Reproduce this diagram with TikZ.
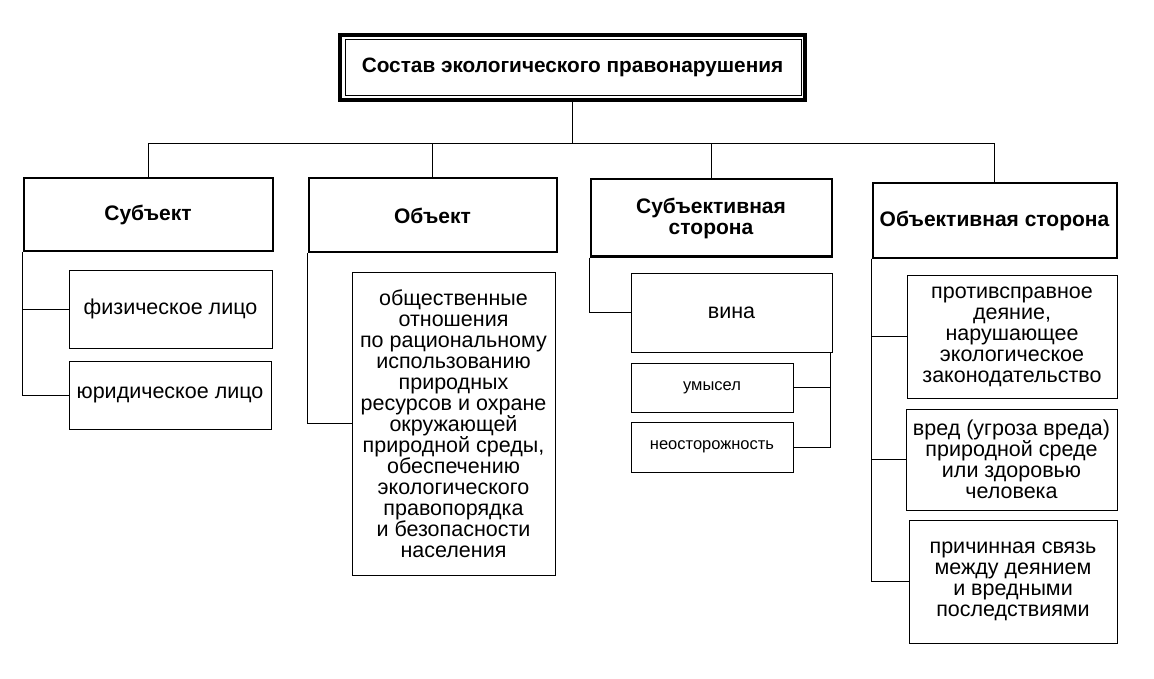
\documentclass[tikz,border=0pt]{standalone}
\usepackage{fontspec}
\setmainfont{Liberation Sans}
\usetikzlibrary{calc}

\begin{document}
\begin{tikzpicture}[x=1pt, y=-1pt,
	head/.style={draw, line width=2pt, font=\fontsize{21}{21}\selectfont\bfseries, align=center},
	item/.style={draw, line width=1pt, font=\fontsize{21.5}{21}\selectfont, align=center},
	small/.style={draw, line width=1pt, font=\fontsize{16.5}{18}\selectfont, align=center},
	link/.style={line width=1pt}]
	\useasboundingbox (0,0) rectangle (1154,679);

	\node[draw, line width=3.5pt, minimum width=465pt, minimum height=65pt, font=\fontsize{20.8}{21}\selectfont\bfseries] (root) at (572.5,67.5) {Состав экологического правонарушения};
	\draw[line width=1pt] ([shift={(7,6)}]root.north west) rectangle ([shift={(-5,-6)}]root.south east);

	\node[head, minimum width=249pt, minimum height=73pt] (subj) at (148,214.5) {Субъект};
	\node[head, minimum width=248pt, minimum height=74pt] (obj) at (432.5,215.5) {Объект};
	\node[head, minimum width=241pt, minimum height=77pt] (subjside) at (711,218) {Субъективная\\сторона};
	\node[head, minimum width=244pt, minimum height=74pt] (objside) at (994.5,220.5) {Объективная сторона};

	\node[item, minimum width=203pt, minimum height=78pt] (fiz) at (170.5,309) {физическое лицо};
	\node[item, minimum width=202pt, minimum height=68pt] (jur) at (170,395) {юридическое лицо};

	\node[item, minimum width=203pt, minimum height=303pt] (rel) at (453.5,423.5) {общественные\\отношения\\по рациональному\\использованию\\природных\\ресурсов и охране\\окружающей\\природной среды,\\обеспечению\\экологического\\правопорядка\\и безопасности\\населения};

	\node[item, minimum width=201pt, minimum height=79pt] (guilt) at (731.5,312.5) {вина};
	\node[small, minimum width=162pt, minimum height=49pt] (intent) at (712,387.5) {умысел};
	\node[small, minimum width=162pt, minimum height=50pt] (careless) at (712,447) {неосторожность};

	\node[item, minimum width=210pt, minimum height=123pt] (act) at (1012,336.5) {противсправное\\деяние,\\нарушающее\\экологическое\\законодательство};
	\node[item, minimum width=211pt, minimum height=101pt] (harm) at (1011.5,459.5) {вред (угроза вреда)\\природной среде\\или здоровью\\человека};
	\node[item, minimum width=208pt, minimum height=123pt] (cause) at (1013,581.5) {причинная связь\\между деянием\\и вредными\\последствиями};

	\draw[link] (root.south) -- ++(0,42) coordinate (bus);
	\draw[link] (subj.north) |- (bus) -| (objside.north);
	\draw[link] (obj.north) -- (obj.north |- bus);
	\draw[link] (subjside.north) -- (subjside.north |- bus);

	\draw[link] (subj.south west) |- (fiz.west);
	\draw[link] (subj.south west) |- (jur.west);
	\draw[link] (obj.south west) |- (rel.west);
	\draw[link] (subjside.south west) |- (guilt.west);
	\draw[link] ([xshift=-2pt]guilt.south east) |- (intent.east);
	\draw[link] ([xshift=-2pt]guilt.south east) |- (careless.east);
	\draw[link] (objside.south west) |- (act.west);
	\draw[link] (objside.south west) |- (harm.west);
	\draw[link] (objside.south west) |- (cause.west);
\end{tikzpicture}
\end{document}
